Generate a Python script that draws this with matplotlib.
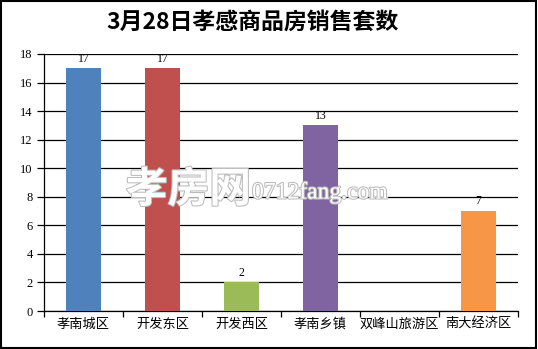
import matplotlib
matplotlib.use("Agg")
import matplotlib.pyplot as plt
import matplotlib.patheffects as pe
import numpy as np

plt.rcParams['font.family'] = ['Noto Sans CJK SC', 'DejaVu Sans']

categories = ['孝南城区', '开发东区', '开发西区', '孝南乡镇', '双峰山旅游区', '南大经济区']
values = [17, 17, 2, 13, 0, 7]
colors = ['#4f81bd', '#c0504d', '#9bbb59', '#8064a2', '#4bacc6', '#f79646']
title = '3月28日孝感商品房销售套数'

fig = plt.figure(figsize=(5.38, 3.49), dpi=100)
ax = fig.add_axes([44/538, 1-311/349, (518-44)/538, (311-54)/349])

x = np.arange(len(categories))
bars = ax.bar(x, values, width=0.44, color=colors, zorder=3)
for xi, v in zip(x, values):
    if v > 0:
        ax.text(xi, v + 0.25, str(v), ha='center', va='bottom', fontsize=8.5,
                family=['Liberation Serif', 'DejaVu Serif'])

ax.set_xlim(-0.5, len(categories) - 0.5)
ax.set_ylim(0, 18)
ax.set_yticks(np.arange(0, 19, 2))
ax.set_yticklabels([str(t) for t in range(0, 19, 2)], family=['Liberation Serif', 'DejaVu Serif'], fontsize=9)
ax.yaxis.grid(True, color='black', linewidth=0.9, zorder=0)
ax.set_xticks(x)
ax.set_xticklabels(categories, fontsize=9.5)
ax.set_xticks(np.arange(-0.5, len(categories), 1), minor=True)
ax.tick_params(axis='x', which='major', length=0, pad=5)
ax.tick_params(axis='x', which='minor', length=4, direction='out', width=0.9)
ax.tick_params(axis='y', length=5, direction='out', width=0.9, pad=3)
for s in ['top', 'right']:
    ax.spines[s].set_visible(False)
ax.spines['left'].set_linewidth(0.9)
ax.spines['bottom'].set_linewidth(0.9)

fig.text(252/538, 1-22/349, title, ha='center', va='center', fontsize=16.5, fontweight='bold',
         family=['Noto Sans CJK SC', 'DejaVu Sans'])

# watermark
fig.text(126/538, 1-190/349, '孝房网', ha='left', va='center', fontsize=30, color='white',
         fontweight='bold', path_effects=[pe.withStroke(linewidth=1.5, foreground='#bbbbbb')], zorder=5)
fig.text(252/538, 1-193/349, '0712fang.com', ha='left', va='center', fontsize=17, color='white',
         family=['Liberation Serif', 'DejaVu Serif'],
         path_effects=[pe.withStroke(linewidth=1.5, foreground='#bbbbbb')], zorder=5)

# figure border
border = plt.Rectangle((0.002, 0.003), 0.995, 0.994, transform=fig.transFigure, fill=False,
                       edgecolor='black', linewidth=1.5)
fig.patches.append(border)

fig.savefig('out.png', dpi=100)
